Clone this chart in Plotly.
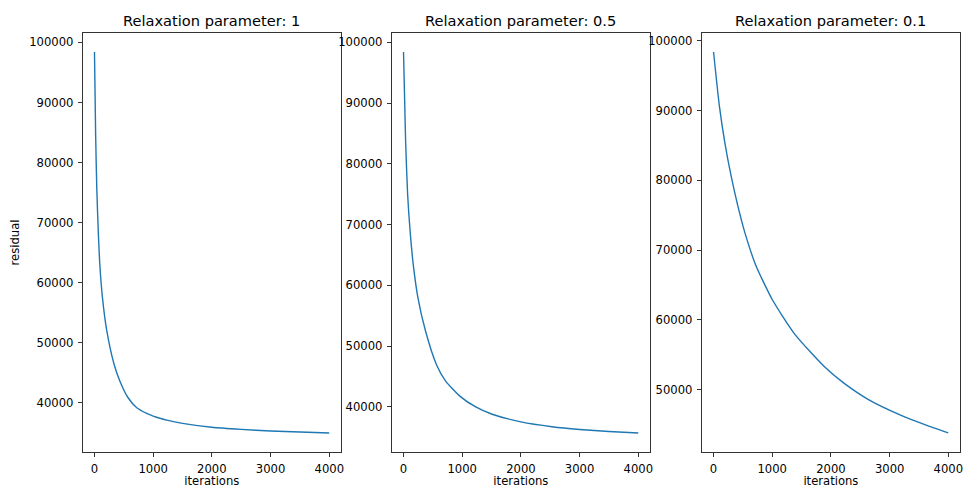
import plotly.graph_objects as go

# Residual history of the relaxed iteration for three relaxation parameters
relaxation = ["1", "0.5", "0.1"]

iters_w1 = [0, 20, 40, 65, 90, 135, 210, 335, 430, 570, 720, 890, 1000, 1130,
            1250, 1500, 2000, 2500, 3000, 3500, 3999]
resid_w1 = [98400, 84500, 75500, 68500, 63200, 57600, 52000, 46400, 43700, 40900,
            39200, 38250, 37800, 37400, 37100, 36600, 35950, 35600, 35330, 35150, 35000]

iters_w05 = [0, 35, 70, 115, 165, 245, 375, 560, 715, 970, 1230, 1510, 2000, 2530,
             3000, 3500, 3999]
resid_w05 = [98400, 84000, 75000, 68600, 63500, 58000, 52500, 47000, 44300, 41700,
             40000, 38800, 37550, 36750, 36300, 35970, 35720]

iters_w01 = [0, 100, 200, 300, 415, 530, 716, 1000, 1386, 1909, 2221, 2647, 3216,
             3600, 3999]
resid_w01 = [98400, 90600, 85000, 80600, 76300, 72600, 67900, 62900, 57900, 53100,
             50900, 48500, 46200, 44950, 43760]

series = [(iters_w1, resid_w1), (iters_w05, resid_w05), (iters_w01, resid_w01)]

W, H = 965, 488
x_domains = [(83, 342), (393, 652), (704, 963)]
y_top, y_bot = 33, 452
FONT = "DejaVu Sans"
LINE_BLUE = "#1f77b4"
SPINE = "#333333"


def padded(lo, hi, frac=0.05):
    span = hi - lo
    return [lo - frac * span, hi + frac * span]


fig = go.Figure()
layout = dict(
    width=W, height=H,
    margin=dict(l=0, r=0, t=0, b=0),
    paper_bgcolor="white", plot_bgcolor="white",
    showlegend=False,
    font=dict(family=FONT, size=12, color="black"),
    annotations=[],
)

for i, ((xs, ys), w) in enumerate(zip(series, relaxation)):
    suffix = "" if i == 0 else str(i + 1)
    fig.add_trace(go.Scatter(
        x=xs, y=ys, mode="lines",
        line=dict(color=LINE_BLUE, width=1.4, shape="spline", smoothing=0.6),
        xaxis="x" + suffix, yaxis="y" + suffix,
    ))
    x0, x1 = x_domains[i]
    common = dict(
        showline=True, linecolor=SPINE, linewidth=1, mirror=True,
        ticks="outside", ticklen=4, tickwidth=1, tickcolor=SPINE,
        showgrid=False, zeroline=False,
        tickfont=dict(family=FONT, size=11.6, color="black"),
        ticklabelstandoff=2,
    )
    layout["xaxis" + suffix] = dict(
        common,
        domain=[x0 / W, x1 / W],
        anchor="y" + suffix,
        range=padded(min(xs), max(xs)),
        tickmode="array", tickvals=[0, 1000, 2000, 3000, 4000],
        title=dict(text="iterations", font=dict(family=FONT, size=11.6), standoff=3),
    )
    ymin, ymax = min(ys), max(ys)
    yticks = [v for v in range(40000, 100001, 10000) if v >= padded(ymin, ymax)[0]]
    ydict = dict(
        common,
        domain=[1 - y_bot / H, 1 - y_top / H],
        anchor="x" + suffix,
        range=padded(ymin, ymax),
        tickmode="array", tickvals=yticks, ticktext=[str(v) for v in yticks],
    )
    if i == 0:
        ydict["title"] = dict(text="residual", font=dict(family=FONT, size=11.6), standoff=7)
    layout["yaxis" + suffix] = ydict
    layout["annotations"].append(dict(
        text=f"Relaxation parameter: {w}",
        x=(x0 + x1) / 2 / W, y=1 - 20 / H,
        xref="paper", yref="paper", xanchor="center", yanchor="middle",
        showarrow=False, font=dict(family=FONT, size=14.6, color="black"),
    ))

fig.update_layout(**layout)
fig.write_html("out.html")
